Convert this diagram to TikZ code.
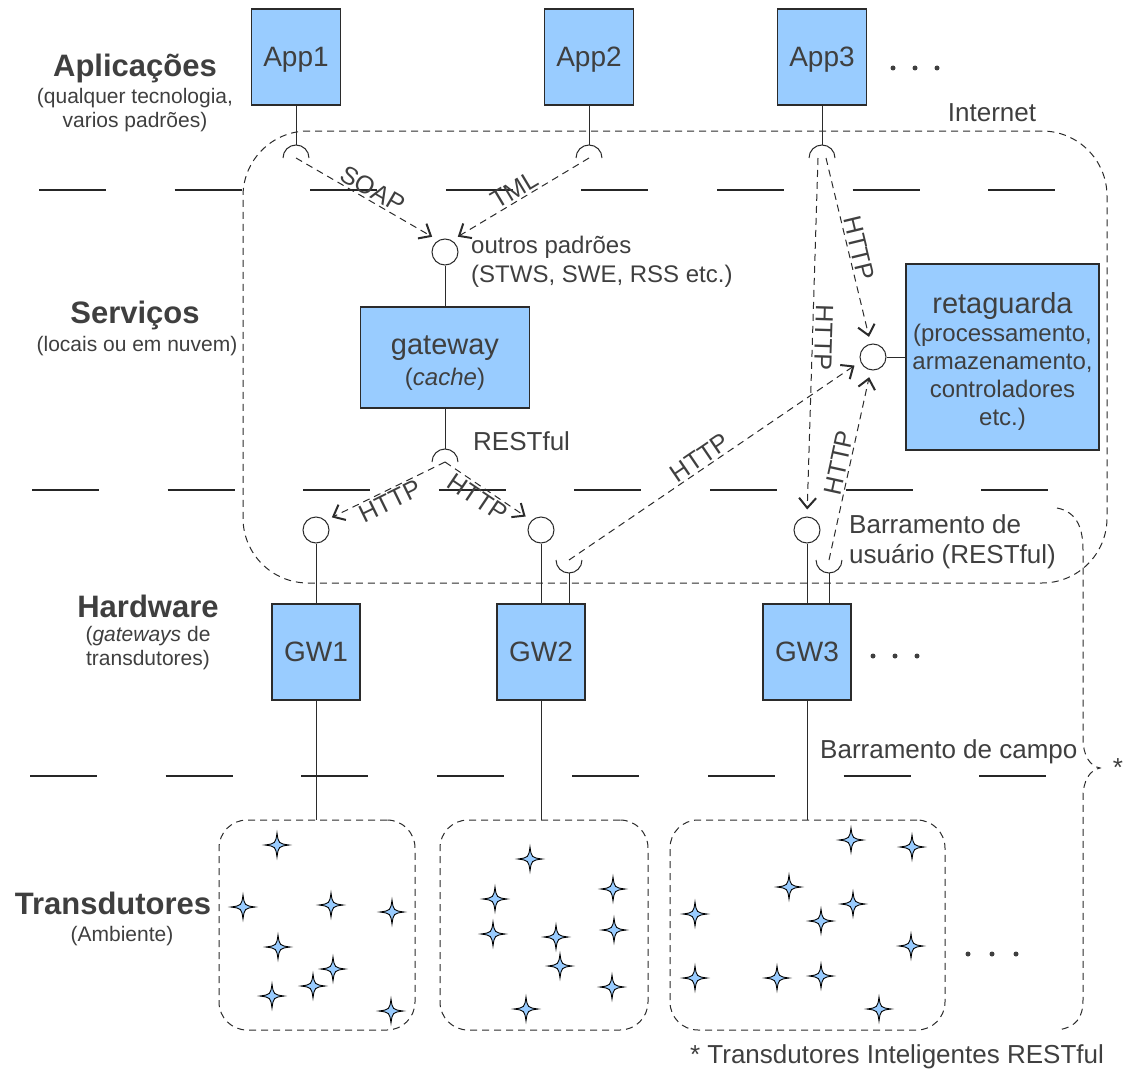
\documentclass[tikz,border=0pt]{standalone}
\usepackage{fontspec}
\setmainfont{Liberation Sans}
\usepackage{xcolor}
\usetikzlibrary{arrows.meta,calc,positioning}

\definecolor{boxfill}{HTML}{99CCFF}
\definecolor{ink}{HTML}{3F3F3F}
\definecolor{edge}{HTML}{2B2B2B}

\tikzset{
  box/.style={draw=edge, fill=boxfill, line width=1.3pt, text=ink, align=center, inner sep=0pt},
  boxtext/.style={text=ink, align=center, inner sep=0pt},
  appbox/.style={box, minimum width=89pt, minimum height=96pt, text depth=0pt, font=\fontsize{28}{32}\selectfont},
  gwbox/.style={box, minimum width=88pt, minimum height=96pt, text depth=0pt, font=\fontsize{28}{32}\selectfont},
  port/.style={draw=edge, circle, fill=white, line width=1pt, minimum size=26pt, inner sep=0pt},
  link/.style={draw=edge, line width=1pt},
  msg/.style={draw=edge, line width=1pt, dash pattern=on 7pt off 5pt,
    -{Straight Barb[length=10pt,width=17pt,line width=2pt]}, shorten >=7pt},
  proto/.style={text=ink, font=\fontsize{25}{28}\selectfont, inner sep=2pt},
  region/.style={draw=edge, line width=1pt, dash pattern=on 7pt off 5pt, rounded corners=28pt},
  sepline/.style={line width=1.5pt, draw=black!85},
  layertitle/.style={text=ink, font=\bfseries\fontsize{31}{36}\selectfont},
  layernote/.style={text=ink, font=\fontsize{21}{24}\selectfont, align=center},
  note/.style={text=ink, font=\fontsize{26}{30}\selectfont, align=left, inner sep=0pt},
  sensor/.pic={
    \draw[draw=black, fill=boxfill, line width=0.9pt] (0,-12) .. controls (1.5,-1.5) .. (12,0)
      .. controls (1.5,1.5) .. (0,12) .. controls (-1.5,1.5) .. (-12,0)
      .. controls (-1.5,-1.5) .. (0,-12) -- cycle;
  }
}

\begin{document}
\begin{tikzpicture}[x=1pt,y=-1pt]
  \useasboundingbox (0,0) rectangle (1125,1073);

  % separators between the layers
  \foreach \y/\xs in {190/39,490/32,776/30}
    \foreach \k in {0,...,7}
      \draw[sepline] (\xs+135.6*\k,\y) -- ++(67,0);

  % layer names
  \node[layertitle] (lapp) at (135,68) {Aplicações};
  \node[layernote] (napp) at (135,110) {(qualquer tecnologia,\\varios padrões)};
  \node[layertitle] (lsrv) at (135,315) {Serviços};
  \node[layernote] (nsrv) at (137,346) {(locais ou em nuvem)};
  \node[layertitle] (lhw) at (148,606) {Hardware};
  \node[layernote] (nhw) at (148,648) {(\textit{gateways} de\\transdutores)};
  \node[layertitle] (ltd) at (113,903) {Transdutores};
  \node[layernote] (ntd) at (122,936) {(Ambiente)};

  % applications
  \node[appbox] (app1) at (296,57) {App1};
  \node[appbox] (app2) at (589,57) {App2};
  \node[appbox] (app3) at (822,57) {App3};
  \foreach \x in {893,915,937}
    \fill[ink] (\x,68) circle[radius=2.5];

  \coordinate (sapp1) at (296,158);
  \coordinate (sapp2) at (589,158);
  \coordinate (sapp3) at (822,158);
  \foreach \s in {app1,app2,app3} {
    \draw[link] (\s.south) -- ($(s\s)+(0,-13)$);
    \draw[link] ($(s\s)+(-13,0)$) arc[start angle=180,end angle=360,radius=13];
  }

  % internet
  \node[region, rounded corners=65pt, minimum width=864pt, minimum height=452pt] (inet) at (675,357) {};
  \node[note] (linet) at (992,113) {Internet};

  % services
  \node[port] (pstd) at (445,252) {};
  \node[note, font=\fontsize{24}{29}\selectfont, anchor=west] (lstd) at (471,262) {outros padrões\\(STWS, SWE, RSS etc.)};
  \node[box, minimum width=169pt, minimum height=101pt] (gw) at (445,357.5) {};
  \node[boxtext, font=\fontsize{29}{31}\selectfont] (gwtxt) at ($(gw)+(0,6)$)
    {gateway\\{\fontsize{24}{28}\selectfont(\textit{cache})}};
  \draw[link] (pstd) -- (gw);
  \coordinate (sgw) at (445,462);
  \draw[link] (gw) -- ($(sgw)+(0,-13)$);
  \draw[link] ($(sgw)+(-13,0)$) arc[start angle=180,end angle=360,radius=13];
  \node[note, anchor=west] (lrest) at (473,441) {RESTful};

  \node[box, minimum width=193pt, minimum height=186pt] (back) at (1002.5,357) {};
  \node[boxtext, font=\fontsize{24}{28}\selectfont] (backtxt) at ($(back)+(0,4)$)
    {{\fontsize{29}{30}\selectfont retaguarda}\\(processamento,\\armazenamento,\\controladores\\etc.)};
  \node[port] (pback) at (873,357) {};
  \draw[link] (pback) -- (back);

  % gateways
  \foreach \g/\x/\lbl in {gw1/316/GW1,gw2/541/GW2,gw3/807/GW3} {
    \node[gwbox] (\g) at (\x,652) {\lbl};
    \node[port] (p\g) at (\x,530) {};
    \draw[link] (p\g) -- (\g);
  }
  \foreach \x in {873,895,917}
    \fill[ink] (\x,656) circle[radius=2.5];

  \coordinate (sgw2) at (569,560);
  \coordinate (sgw3) at (829,560);
  \foreach \s in {gw2,gw3} {
    \draw[link] ($(s\s)+(-13,0)$) arc[start angle=180,end angle=0,radius=13];
    \draw[link] ($(s\s)+(0,13)$) -- (s\s |- \s.north);
  }
  \node[note, anchor=west] (lbus) at (849,542) {Barramento de\\usuário (RESTful)};

  % messages
  \draw[msg] (sapp1) -- (pstd.120) node[proto, midway, sloped, above] {SOAP};
  \draw[msg] (sapp2) -- (pstd.60) node[proto, midway, sloped, above] {TML};
  \draw[msg] ($(sapp3)+(-4,0)$) -- (pgw3.north) node[proto, midway, sloped, above, allow upside down] {HTTP};
  \draw[msg] ($(sapp3)+(4,0)$) -- (pback.100) node[proto, midway, sloped, above] {HTTP};
  \draw[msg] (sgw) -- (pgw1.45) node[proto, midway, sloped, below] {HTTP};
  \draw[msg] (sgw) -- (pgw2.135) node[proto, pos=0.45, sloped, below] {HTTP};
  \draw[msg] (sgw2) -- (pback.200) node[proto, pos=0.47, sloped, above] {HTTP};
  \draw[msg] (sgw3) -- (pback.260) node[proto, midway, sloped, above] {HTTP};

  % transducer fields
  \node[region, minimum width=196pt, minimum height=210pt] (td1) at (317,925) {};
  \node[region, minimum width=208pt, minimum height=210pt] (td2) at (544,925) {};
  \node[region, minimum width=275pt, minimum height=210pt] (td3) at (807.5,925) {};
  \foreach \g/\t in {gw1/td1,gw2/td2,gw3/td3}
    \draw[link] (\g.south) -- (\g.south |- \t.north);
  \node[note, anchor=west] (lfield) at (820,752) {Barramento de campo};

  \foreach \sx/\sy in {277/845,243/907,331/905,392/912,278/947,333/969,313/986,272/996,391/1011,
                       530/859,495/899,613/889,493/934,556/937,614/930,560/966,612/987,526/1009,
                       851/840,912/847,789/887,853/904,695/914,821/921,911/946,695/978,777/978,821/976,879/1009}
    \pic at (\sx,\sy) {sensor};
  \foreach \x in {968,992,1016}
    \fill[ink] (\x,954) circle[radius=2.5];

  % smart transducers brace
  \draw[region, rounded corners=0pt] (1057,508) .. controls (1078,512) and (1083,530) .. (1083,550)
    -- (1083,738) .. controls (1083,756) and (1090,766) .. (1100,768)
    .. controls (1090,770) and (1083,780) .. (1083,798)
    -- (1083,1000) .. controls (1083,1018) and (1076,1027) .. (1058,1030);
  \node[note] (lstar) at (1118,768) {*};
  \node[note] (lfoot) at (897,1057) {* Transdutores Inteligentes RESTful};
\end{tikzpicture}
\end{document}
